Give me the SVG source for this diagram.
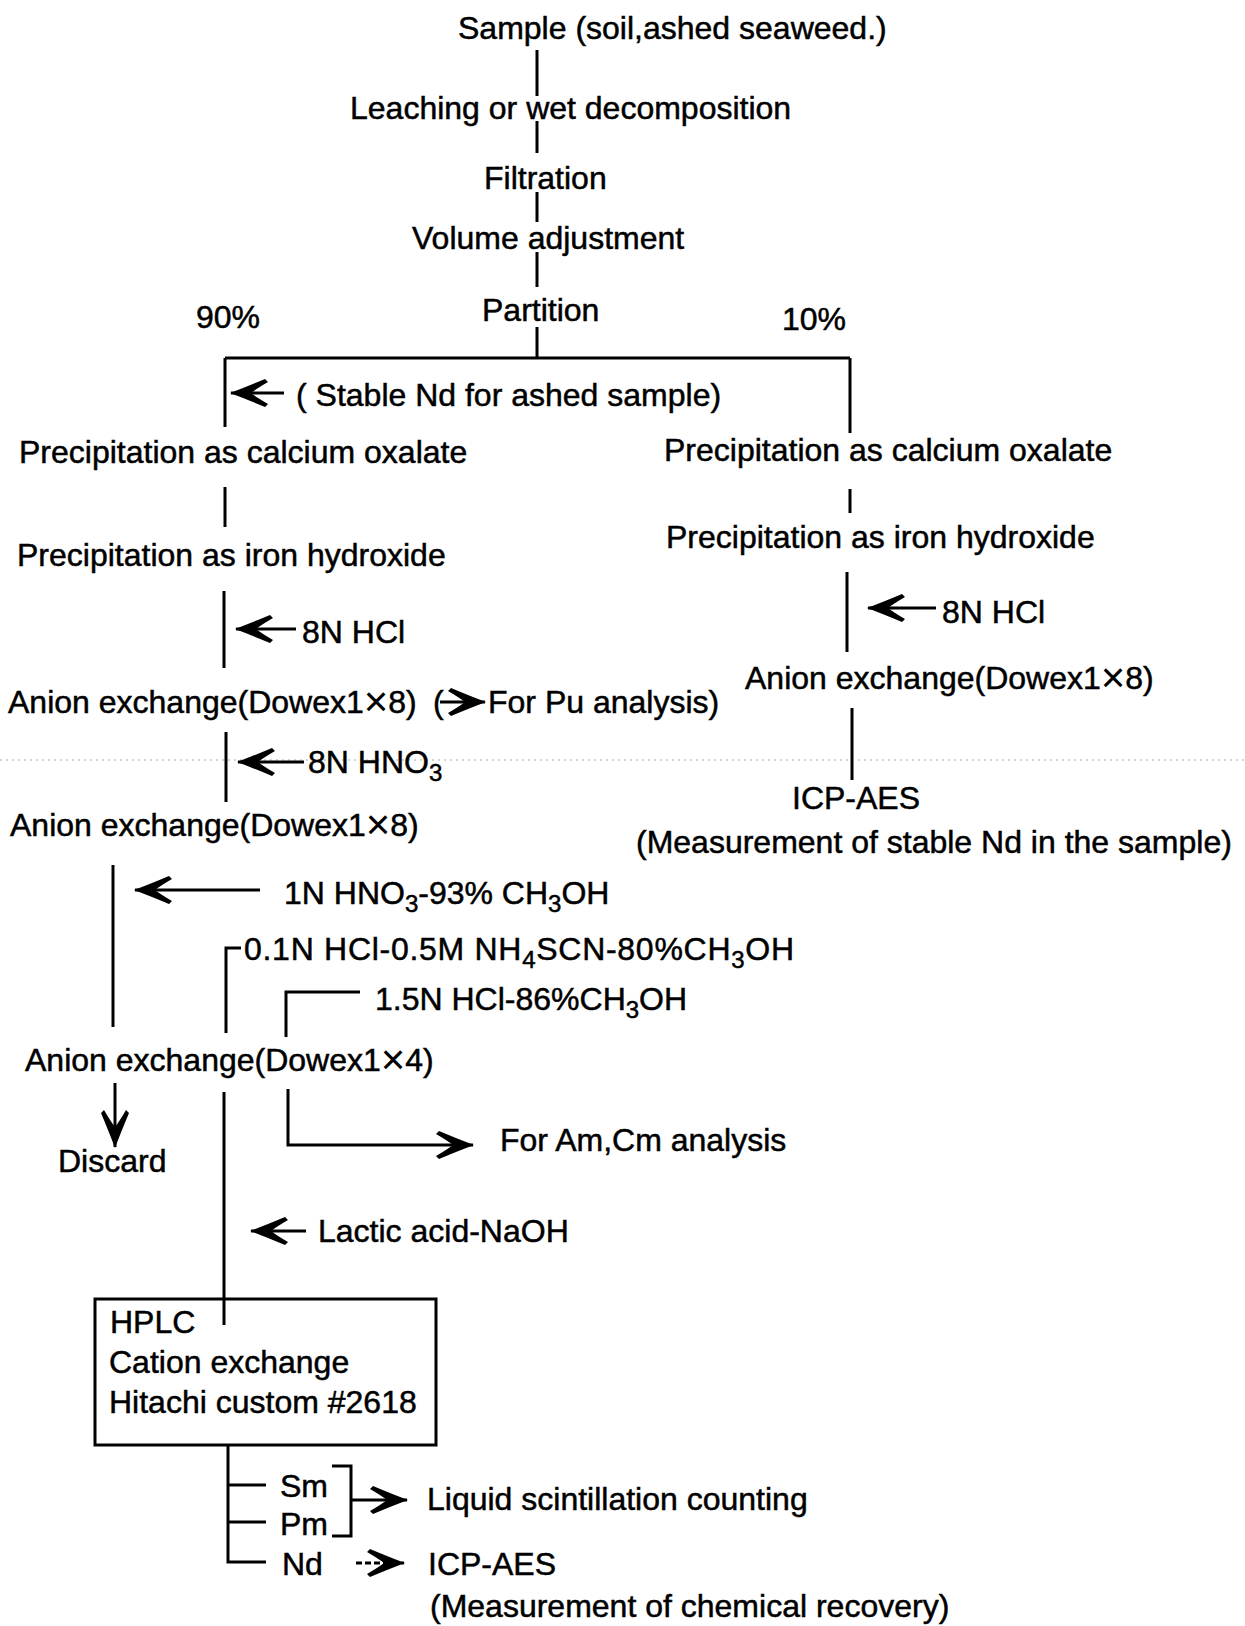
<svg xmlns="http://www.w3.org/2000/svg" width="1245" height="1626" viewBox="0 0 1245 1626">
<style>
text{font-family:"Liberation Sans",Arial,sans-serif;font-size:32px;fill:#000;stroke:#000;stroke-width:0.5}
.ln{stroke:#000;stroke-width:3;fill:none}
.sub{font-size:24px}
.x{font-size:42px;stroke-width:0}
</style>
<defs>
<marker id="ah" markerUnits="userSpaceOnUse" viewBox="0 0 38 28" refX="37" refY="14" markerWidth="38" markerHeight="28" orient="auto"><path d="M38,14 Q22,8 3,0 L0,3 Q12,10 17,14 Q12,18 0,25 L3,28 Q22,20 38,14 Z" fill="#000"/></marker>
</defs>
<rect width="1245" height="1626" fill="#fff"/>
<line x1="0" y1="760" x2="1245" y2="760" stroke="#aaa" stroke-width="1" stroke-dasharray="2 4"/>
<g id="connectors">
<path class="ln" d="M537,50 V96 M537,121 V153 M537,192 V222 M537,252 V287 M537,327 V358"/>
<path class="ln" d="M225,358 H850"/>
<path class="ln" d="M225,358 V427 M850,358 V433"/>
<path class="ln" d="M225,487 V527 M850,489 V513"/>
<path class="ln" d="M224,591 V668 M847,572 V652"/>
<path class="ln" d="M226,732 V802 M852,708 V780"/>
<path class="ln" marker-end="url(#ah)" d="M284,393 H231"/>
<path class="ln" marker-end="url(#ah)" d="M296,629 H236"/>
<path class="ln" marker-end="url(#ah)" d="M936,608 H868"/>
<path class="ln" marker-end="url(#ah)" d="M304,762 H238"/>
<path class="ln" marker-end="url(#ah)" d="M440,702 H485"/>
<path class="ln" d="M113,865 V1027"/>
<path class="ln" marker-end="url(#ah)" d="M260,890 H135"/>
<path class="ln" d="M226,1033 V948 H241"/>
<path class="ln" d="M286,1037 V992 H360"/>
<path class="ln" marker-end="url(#ah)" d="M115,1083 V1147"/>
<path class="ln" d="M224,1092 V1325"/>
<path class="ln" marker-end="url(#ah)" d="M288,1089 V1145 H473"/>
<path class="ln" marker-end="url(#ah)" d="M306,1231 H251"/>
<path class="ln" d="M228,1445 V1562 H266 M228,1485 H266 M228,1522 H266"/>
<path class="ln" d="M332,1466 H351 V1536 H332"/>
<path class="ln" marker-end="url(#ah)" d="M351,1500 H407"/>
<path class="ln" stroke-dasharray="6 3" marker-end="url(#ah)" d="M356,1563 H404"/>
</g>
<g id="sample"><text x="458" y="39">Sample (soil,ashed seaweed.)</text></g>
<g id="leaching"><text x="350" y="119">Leaching or wet decomposition</text></g>
<g id="filtration"><text x="484" y="189">Filtration</text></g>
<g id="volume"><text x="412" y="249">Volume adjustment</text></g>
<g id="partition"><text x="482" y="321">Partition</text><text x="196" y="328">90%</text><text x="782" y="330">10%</text></g>
<g id="stable-nd"><text x="296" y="406">( Stable Nd for ashed sample)</text></g>
<g id="l-calcium"><text x="19" y="463">Precipitation as calcium oxalate</text></g>
<g id="r-calcium"><text x="664" y="461">Precipitation as calcium oxalate</text></g>
<g id="l-iron"><text x="17" y="566">Precipitation as iron hydroxide</text></g>
<g id="r-iron"><text x="666" y="548">Precipitation as iron hydroxide</text></g>
<g id="l-hcl"><text x="302" y="643">8N HCl</text></g>
<g id="r-hcl"><text x="942" y="623">8N HCl</text></g>
<g id="r-anion"><text x="745" y="689">Anion exchange(Dowex1<tspan class="x" dy="3">×</tspan><tspan dy="-3">8)</tspan></text></g>
<g id="l-anion1"><text x="8" y="713">Anion exchange(Dowex1<tspan class="x" dy="3">×</tspan><tspan dy="-3">8)</tspan></text><text x="433" y="713">(</text><text x="488" y="713">For Pu analysis)</text></g>
<g id="hno3"><text x="308" y="773">8N HNO<tspan class="sub" dy="8">3</tspan></text></g>
<g id="r-icp"><text x="792" y="809">ICP-AES</text><text x="636" y="853">(Measurement of stable Nd in the sample)</text></g>
<g id="l-anion2"><text x="10" y="836">Anion exchange(Dowex1<tspan class="x" dy="3">×</tspan><tspan dy="-3">8)</tspan></text></g>
<g id="eluent1"><text x="284" y="904">1N HNO<tspan class="sub" dy="8">3</tspan><tspan dy="-8">-93% CH</tspan><tspan class="sub" dy="8">3</tspan><tspan dy="-8">OH</tspan></text></g>
<g id="eluent2"><text x="244" y="960" textLength="550" lengthAdjust="spacing">0.1N HCl-0.5M NH<tspan class="sub" dy="8">4</tspan><tspan dy="-8">SCN-80%CH</tspan><tspan class="sub" dy="8">3</tspan><tspan dy="-8">OH</tspan></text></g>
<g id="eluent3"><text x="375" y="1010">1.5N HCl-86%CH<tspan class="sub" dy="8">3</tspan><tspan dy="-8">OH</tspan></text></g>
<g id="anion3"><text x="25" y="1071">Anion exchange(Dowex1<tspan class="x" dy="3">×</tspan><tspan dy="-3">4)</tspan></text></g>
<g id="discard"><text x="58" y="1172">Discard</text></g>
<g id="amcm"><text x="500" y="1151">For Am,Cm analysis</text></g>
<g id="lactic"><text x="318" y="1242">Lactic acid-NaOH</text></g>
<g id="hplc"><rect x="95" y="1299" width="341" height="146" fill="none" stroke="#000" stroke-width="3"/><text x="110" y="1333">HPLC</text><text x="109" y="1373">Cation exchange</text><text x="109" y="1413">Hitachi custom #2618</text></g>
<g id="fractions"><text x="280" y="1497">Sm</text><text x="280" y="1535">Pm</text><text x="282" y="1575">Nd</text></g>
<g id="lsc"><text x="427" y="1510">Liquid scintillation counting</text></g>
<g id="icp2"><text x="428" y="1575">ICP-AES</text><text x="430" y="1617">(Measurement of chemical recovery)</text></g>
</svg>
